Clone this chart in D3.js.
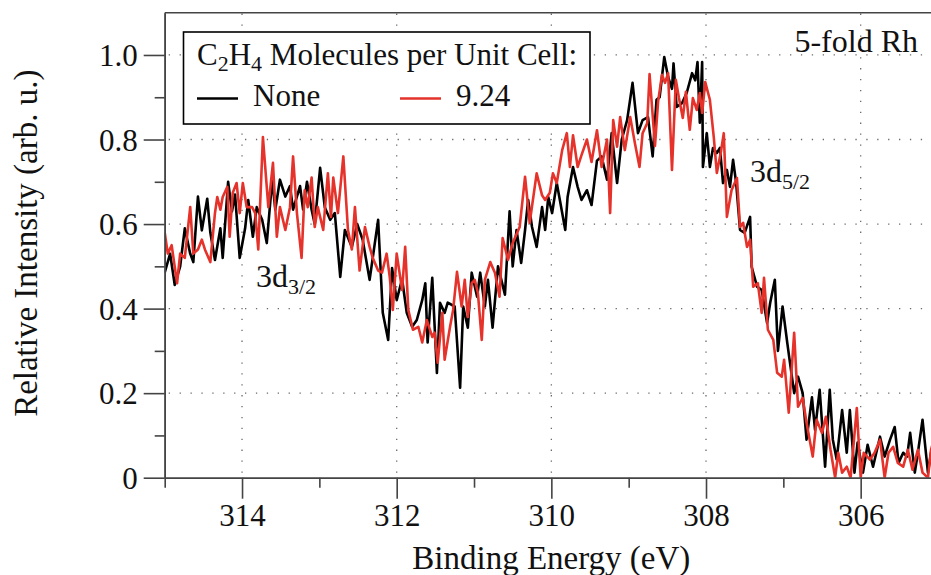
<!DOCTYPE html>
<html>
<head>
<meta charset="utf-8">
<script src="https://cdn.jsdelivr.net/npm/d3@7"></script>
<style>
  body { margin: 0; background: #fff; }
  svg text { font-family: "Liberation Serif", "DejaVu Serif", serif; fill: #111; }
</style>
</head>
<body>
<svg id="chart" width="931" height="575"></svg>
<script>
// Rh 3d XPS spectra
const energyNone = [315.00,314.93,314.87,314.80,314.74,314.67,314.63,314.57,314.52,314.45,314.41,314.35,314.28,314.25,314.18,314.13,314.09,314.03,313.96,313.92,313.86,313.81,313.74,313.68,313.61,313.57,313.51,313.44,313.38,313.34,313.25,313.21,313.16,313.10,313.06,312.99,312.93,312.86,312.80,312.73,312.67,312.58,312.51,312.44,312.35,312.24,312.18,312.11,312.06,312.00,311.93,311.87,311.80,311.74,311.67,311.63,311.60,311.54,311.48,311.44,311.38,311.34,311.25,311.18,311.14,311.08,311.03,310.96,310.92,310.86,310.82,310.76,310.69,310.60,310.54,310.50,310.45,310.39,310.34,310.30,310.25,310.19,310.12,310.08,310.04,309.99,309.93,309.89,309.82,309.79,309.72,309.66,309.61,309.54,309.48,309.41,309.35,309.28,309.22,309.15,309.09,309.02,308.95,308.88,308.82,308.75,308.69,308.64,308.60,308.54,308.49,308.44,308.42,308.38,308.31,308.25,308.18,308.14,308.11,308.08,308.05,308.04,307.99,307.95,307.91,307.86,307.82,307.78,307.73,307.69,307.65,307.61,307.56,307.50,307.43,307.41,307.34,307.28,307.21,307.17,307.11,307.07,307.01,306.95,306.92,306.86,306.81,306.75,306.70,306.63,306.59,306.53,306.46,306.40,306.36,306.31,306.24,306.18,306.14,306.08,306.04,305.97,305.91,305.84,305.75,305.69,305.62,305.56,305.51,305.45,305.40,305.36,305.30,305.26,305.20,305.13,305.09,305.02];
const intensityNone = [0.485,0.53,0.456,0.50,0.59,0.53,0.51,0.665,0.585,0.66,0.58,0.515,0.59,0.52,0.70,0.63,0.67,0.52,0.59,0.657,0.57,0.64,0.61,0.555,0.705,0.634,0.705,0.665,0.69,0.634,0.69,0.634,0.70,0.634,0.60,0.733,0.64,0.61,0.626,0.475,0.586,0.546,0.60,0.563,0.468,0.61,0.39,0.326,0.496,0.42,0.47,0.39,0.357,0.373,0.42,0.46,0.32,0.473,0.248,0.414,0.39,0.414,0.405,0.213,0.405,0.355,0.485,0.428,0.485,0.405,0.468,0.355,0.50,0.433,0.63,0.50,0.586,0.508,0.586,0.657,0.593,0.546,0.64,0.586,0.664,0.626,0.697,0.657,0.586,0.664,0.735,0.688,0.657,0.68,0.645,0.75,0.76,0.705,0.815,0.697,0.80,0.846,0.934,0.815,0.846,0.853,0.76,0.894,0.90,0.995,0.948,0.92,0.98,0.877,0.886,0.91,0.957,0.94,0.983,0.84,0.983,0.735,0.815,0.735,0.78,0.768,0.78,0.697,0.728,0.688,0.752,0.697,0.586,0.579,0.617,0.499,0.452,0.444,0.366,0.414,0.468,0.30,0.405,0.32,0.28,0.20,0.239,0.20,0.09,0.19,0.113,0.208,0.026,0.208,0.09,0.043,0.16,0.059,0.16,0.012,0.083,0.012,0.078,0.026,0.097,0.05,0.09,0.12,0.035,0.059,0.05,0.106,0.012,0.059,0.137,0.012,0.06,0.05];

const energy924 = [315.00,314.96,314.91,314.84,314.80,314.74,314.67,314.63,314.57,314.52,314.48,314.41,314.35,314.32,314.28,314.25,314.19,314.16,314.12,314.07,314.03,313.99,313.94,313.87,313.83,313.79,313.73,313.66,313.60,313.55,313.51,313.44,313.38,313.34,313.29,313.23,313.19,313.15,313.10,313.06,313.02,312.95,312.89,312.85,312.82,312.76,312.69,312.63,312.58,312.54,312.48,312.41,312.35,312.31,312.24,312.19,312.13,312.09,312.05,312.00,311.93,311.89,311.85,311.79,311.72,311.67,311.61,311.54,311.51,311.47,311.41,311.38,311.31,311.27,311.22,311.16,311.12,311.08,311.03,310.99,310.95,310.90,310.86,310.79,310.73,310.67,310.63,310.56,310.50,310.41,310.34,310.28,310.19,310.12,310.08,310.02,309.98,309.93,309.86,309.80,309.76,309.72,309.66,309.61,309.54,309.48,309.41,309.35,309.28,309.24,309.20,309.15,309.11,309.05,308.98,308.92,308.86,308.82,308.76,308.73,308.66,308.62,308.57,308.53,308.49,308.44,308.39,308.35,308.30,308.26,308.21,308.17,308.12,308.08,308.05,308.01,307.95,307.90,307.86,307.81,307.77,307.73,307.67,307.60,307.56,307.52,307.47,307.43,307.39,307.33,307.28,307.25,307.20,307.13,307.08,307.02,306.99,306.93,306.86,306.81,306.75,306.70,306.62,306.57,306.50,306.45,306.39,306.33,306.29,306.24,306.18,306.13,306.05,306.00,305.96,305.88,305.82,305.75,305.69,305.64,305.58,305.52,305.45,305.39,305.33,305.26,305.20,305.13,305.09,305.04];
const intensity924 = [0.58,0.53,0.55,0.46,0.53,0.52,0.64,0.53,0.54,0.563,0.54,0.51,0.626,0.664,0.634,0.664,0.688,0.57,0.674,0.697,0.626,0.697,0.64,0.64,0.626,0.54,0.806,0.64,0.745,0.57,0.64,0.586,0.64,0.76,0.626,0.52,0.68,0.64,0.71,0.593,0.64,0.586,0.72,0.617,0.71,0.626,0.76,0.586,0.54,0.64,0.49,0.593,0.546,0.52,0.49,0.485,0.53,0.475,0.397,0.53,0.444,0.546,0.397,0.35,0.357,0.32,0.373,0.333,0.343,0.272,0.39,0.279,0.357,0.397,0.487,0.405,0.468,0.38,0.46,0.468,0.437,0.326,0.468,0.51,0.485,0.428,0.567,0.515,0.555,0.593,0.712,0.603,0.72,0.668,0.657,0.674,0.72,0.697,0.775,0.815,0.735,0.81,0.735,0.763,0.80,0.747,0.822,0.735,0.80,0.626,0.846,0.783,0.853,0.775,0.853,0.792,0.735,0.815,0.839,0.955,0.785,0.889,0.953,0.934,0.957,0.728,0.941,0.898,0.851,0.913,0.823,0.898,0.87,0.91,0.863,0.936,0.894,0.806,0.721,0.768,0.815,0.617,0.68,0.709,0.593,0.603,0.546,0.563,0.452,0.46,0.39,0.473,0.35,0.326,0.248,0.239,0.279,0.154,0.343,0.168,0.189,0.13,0.05,0.137,0.106,0.144,0.066,0.0,0.059,0.012,0.026,0.0,0.165,0.0,0.059,0.043,0.059,0.09,0.0,0.059,0.073,0.035,0.026,0.066,0.019,0.066,0.012,0.0,0.066,0.10];

const seriesNames = ["None", "9.24"];
const seriesColors = ["#000000", "#e5322a"];
const xMajorTicks = [314, 312, 310, 308, 306];
const xMinorTicks = [315, 313, 311, 309, 307, 305];
const yMajorTicks = [0, 0.2, 0.4, 0.6, 0.8, 1.0];
const yMinorTicks = [0.1, 0.3, 0.5, 0.7, 0.9];

const svg = d3.select("#chart");
const plotLeft = 164.7, plotRight = 938, plotTop = 12.7, plotBottom = 477.7;
const axisColor = "#444";

const x = d3.scaleLinear().domain([315, 305]).range([plotLeft, plotRight]);
const y = d3.scaleLinear().domain([0, 1.1]).range([plotBottom, plotTop]);

svg.append("defs").append("clipPath").attr("id", "plotclip")
  .append("rect").attr("x", plotLeft).attr("y", plotTop)
  .attr("width", plotRight - plotLeft).attr("height", plotBottom - plotTop);

// dotted grid
const grid = svg.append("g").attr("stroke", "#6a6a6a").attr("stroke-width", 1.3)
  .attr("stroke-dasharray", "1.3 9.6");
grid.selectAll("line.gx").data(xMajorTicks).enter().append("line")
  .attr("x1", d => x(d)).attr("x2", d => x(d))
  .attr("y1", plotBottom - 5).attr("y2", plotTop);
grid.selectAll("line.gy").data(yMajorTicks.filter(d => d > 0)).enter().append("line")
  .attr("x1", plotLeft + 4).attr("x2", plotRight).attr("y1", d => y(d)).attr("y2", d => y(d));

// data lines
const line = d3.line().x(d => x(d[0])).y(d => y(d[1]));
const dataNone = d3.zip(energyNone, intensityNone);
const data924 = d3.zip(energy924, intensity924);
const plot = svg.append("g").attr("clip-path", "url(#plotclip)");
plot.selectAll("path").data([dataNone, data924]).enter().append("path")
  .attr("d", line)
  .attr("fill", "none")
  .attr("stroke", (d, i) => seriesColors[i])
  .attr("stroke-width", 2.6)
  .attr("stroke-linejoin", "round");

// axes
const fontSize = 31;
const titleSize = 33;
function styleAxis(g) {
  g.select(".domain").attr("stroke", axisColor).attr("stroke-width", 1.6);
  g.selectAll(".tick line").attr("stroke", axisColor).attr("stroke-width", 1.6);
  g.selectAll("text").attr("font-size", fontSize).attr("fill", "#111")
    .attr("font-family", "Liberation Serif");
}

const xMinor = svg.append("g").attr("transform", `translate(0,${plotBottom})`)
  .call(d3.axisBottom(x).tickValues(xMinorTicks).tickSize(10).tickSizeOuter(0).tickFormat(""));
styleAxis(xMinor);
const xAxis = svg.append("g").attr("transform", `translate(0,${plotBottom})`)
  .call(d3.axisBottom(x).tickValues(xMajorTicks).tickSize(21).tickSizeOuter(0).tickFormat(d3.format("d")));
styleAxis(xAxis);
xAxis.selectAll("text").attr("y", 48).attr("dy", null);

const yMinor = svg.append("g").attr("transform", `translate(${plotLeft},0)`)
  .call(d3.axisLeft(y).tickValues(yMinorTicks).tickSize(10).tickSizeOuter(0).tickFormat(""));
styleAxis(yMinor);
const yAxis = svg.append("g").attr("transform", `translate(${plotLeft},0)`)
  .call(d3.axisLeft(y).tickValues(yMajorTicks).tickSize(21).tickSizeOuter(0)
    .tickFormat(d => d === 0 ? "0" : d3.format(".1f")(d)));
styleAxis(yAxis);
yAxis.selectAll("text").attr("x", -27).attr("dy", "0.34em");

// top frame line
svg.append("line").attr("x1", plotLeft).attr("x2", plotRight).attr("y1", plotTop).attr("y2", plotTop)
  .attr("stroke", axisColor).attr("stroke-width", 1.6);

// axis titles
svg.append("text").attr("x", (plotLeft + plotRight) / 2).attr("y", 569)
  .attr("text-anchor", "middle").attr("font-size", titleSize)
  .text("Binding Energy (eV)");
svg.append("text").attr("transform", `translate(37,${(plotTop + plotBottom) / 2 - 2}) rotate(-90)`)
  .attr("text-anchor", "middle").attr("font-size", titleSize)
  .text("Relative Intensity (arb. u.)");

// legend
const lg = svg.append("g");
lg.append("rect").attr("x", 183.5).attr("y", 32).attr("width", 406.5).attr("height", 92)
  .attr("fill", "#fff").attr("stroke", "#000").attr("stroke-width", 1.6);
const title = lg.append("text").attr("x", 197).attr("y", 65).attr("font-size", fontSize);
title.append("tspan").text("C");
title.append("tspan").attr("font-size", 22).attr("dy", 6).text("2");
title.append("tspan").attr("dy", -6).text("H");
title.append("tspan").attr("font-size", 22).attr("dy", 6).text("4");
title.append("tspan").attr("dy", -6).text(" Molecules per Unit Cell:");

const legendX = [197, 400];
const items = lg.selectAll("g.item").data(seriesNames).enter().append("g")
  .attr("transform", (d, i) => `translate(${legendX[i]},0)`);
items.append("line").attr("x1", 0).attr("x2", 41).attr("y1", 98.5).attr("y2", 98.5)
  .attr("stroke", (d, i) => seriesColors[i]).attr("stroke-width", 2.6);
items.append("text").attr("x", 56).attr("y", 106).attr("font-size", fontSize).text(d => d);

// annotations
svg.append("text").attr("x", 918).attr("y", 52).attr("text-anchor", "end")
  .attr("font-size", 32).text("5-fold Rh");

function orbital(xp, yp, sub) {
  const t = svg.append("text").attr("x", xp).attr("y", yp).attr("font-size", 32);
  t.append("tspan").text("3d");
  t.append("tspan").attr("font-size", 22).attr("dy", 7).text(sub);
}
orbital(750, 182, "5/2");
orbital(256, 287, "3/2");
</script>
</body>
</html>
